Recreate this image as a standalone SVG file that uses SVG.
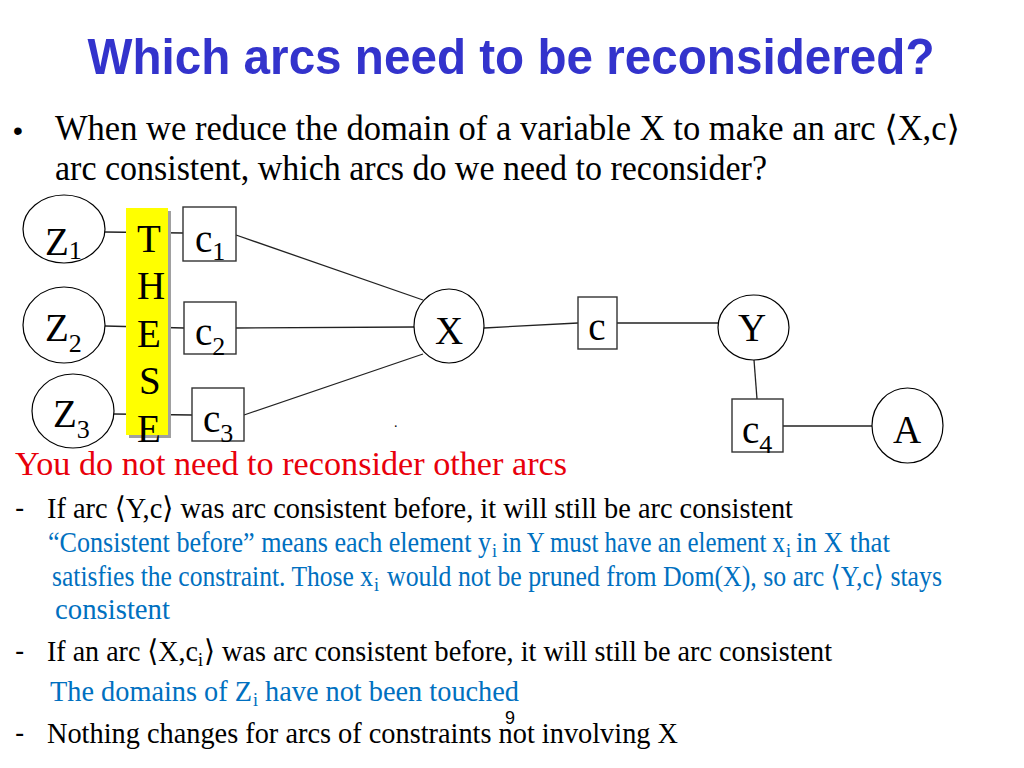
<svg xmlns="http://www.w3.org/2000/svg" width="1024" height="768" viewBox="0 0 1024 768">
<style>
  .title { font-family: "Liberation Sans", Arial, sans-serif; font-weight: bold; font-size: 50px; fill: #3333cc; }
  .t { font-family: "Liberation Serif", "Times New Roman", "DejaVu Serif", serif; fill: #000; }
  .body { font-size: 35px; }
  .sm { font-size: 30px; }
  .bl { font-size: 29px; fill: #0070c0; }
  .si { font-size: 18px; }
  .red { fill: #e8000b; font-size: 34px; }
  .lbl { font-family: "Liberation Serif", "Times New Roman", serif; font-size: 39px; fill: #000; }
  .sub { font-size: 26px; }
  .node { fill: #fff; stroke: #000; stroke-width: 1.2; }
  .box { fill: #fff; stroke: #333; stroke-width: 1.4; }
  .conn line { stroke: #222; stroke-width: 1.3; }
  .dash { font-family: "Liberation Sans", Arial, sans-serif; font-size: 28px; fill: #000; }
</style>
<rect x="0" y="0" width="1024" height="768" fill="#fff"/>

<text class="title" x="511" y="74" text-anchor="middle" textLength="847" lengthAdjust="spacingAndGlyphs">Which arcs need to be reconsidered?</text>

<text class="dash" x="13" y="140" font-size="26">•</text>
<text class="t body" x="55" y="140" textLength="905" lengthAdjust="spacingAndGlyphs">When we reduce the domain of a variable X  to make an arc ⟨X,c⟩</text>
<text class="t body" x="55" y="180" textLength="712" lengthAdjust="spacingAndGlyphs">arc consistent, which arcs do we need to reconsider?</text>

<g class="conn" id="connectors">
  <line x1="105" y1="232" x2="183" y2="233"/>
  <line x1="105" y1="326" x2="184" y2="328"/>
  <line x1="114" y1="414" x2="192" y2="415"/>
  <line x1="236" y1="235" x2="423" y2="300"/>
  <line x1="236" y1="328" x2="414" y2="327"/>
  <line x1="244" y1="415" x2="423" y2="354"/>
  <line x1="484" y1="328" x2="578" y2="323"/>
  <line x1="617" y1="323" x2="718" y2="323"/>
  <line x1="754" y1="360" x2="757" y2="399"/>
  <line x1="783" y1="426" x2="872" y2="426"/>
</g>

<g id="these">
  <rect x="129" y="211" width="42" height="227" fill="#a0a0a0"/>
  <rect x="126" y="208" width="42" height="227" fill="#ffff00"/>
  <text class="lbl" x="137" y="252">T</text>
  <text class="lbl" x="137" y="299">H</text>
  <text class="lbl" x="137" y="347">E</text>
  <text class="lbl" x="139" y="394">S</text>
  <text class="lbl" x="137" y="442">E</text>
</g>

<g id="Z1">
  <ellipse class="node" cx="64" cy="229" rx="41" ry="34"/>
  <text class="lbl" x="45" y="255">Z<tspan class="sub" dy="4">1</tspan></text>
</g>
<g id="Z2">
  <ellipse class="node" cx="64" cy="325" rx="41" ry="38"/>
  <text class="lbl" x="45" y="341">Z<tspan class="sub" dy="11">2</tspan></text>
</g>
<g id="Z3">
  <ellipse class="node" cx="73" cy="411" rx="41" ry="37"/>
  <text class="lbl" x="53" y="427">Z<tspan class="sub" dy="11">3</tspan></text>
</g>
<g id="c1">
  <rect class="box" x="183" y="207" width="53" height="54"/>
  <text class="lbl" x="195" y="252">c<tspan class="sub" dy="8">1</tspan></text>
</g>
<g id="c2">
  <rect class="box" x="184" y="302" width="52" height="52"/>
  <text class="lbl" x="195" y="345">c<tspan class="sub" dy="10">2</tspan></text>
</g>
<g id="c3">
  <rect class="box" x="192" y="388" width="52" height="53"/>
  <text class="lbl" x="203" y="432">c<tspan class="sub" dy="10">3</tspan></text>
</g>
<g id="X">
  <ellipse class="node" cx="449" cy="326" rx="35" ry="37"/>
  <text class="lbl" x="449" y="344" text-anchor="middle">X</text>
</g>
<g id="c">
  <rect class="box" x="578" y="297" width="39" height="52"/>
  <text class="lbl" x="597" y="340" text-anchor="middle">c</text>
</g>
<g id="Y">
  <ellipse class="node" cx="753.5" cy="327.5" rx="35.5" ry="32.5"/>
  <text class="lbl" x="752" y="341" text-anchor="middle">Y</text>
</g>
<g id="c4">
  <rect class="box" x="732" y="399" width="51" height="53"/>
  <text class="lbl" x="742" y="443">c<tspan class="sub" dy="10">4</tspan></text>
</g>
<g id="A">
  <ellipse class="node" cx="907.5" cy="425.5" rx="35.5" ry="37.5"/>
  <text class="lbl" x="907" y="443" text-anchor="middle">A</text>
</g>

<text class="t" x="394" y="427" font-size="14" fill="#1a2a6a">.</text>

<text class="t red" x="15" y="475" textLength="552" lengthAdjust="spacingAndGlyphs">You do not need to reconsider other arcs</text>

<text class="dash" x="15" y="517">-</text>
<text class="t sm" x="47" y="518" textLength="746" lengthAdjust="spacingAndGlyphs">If arc ⟨Y,c⟩ was arc consistent before, it will still be arc consistent</text>

<text class="t bl" x="48" y="552" textLength="443" lengthAdjust="spacingAndGlyphs">“Consistent before” means each element y</text>
<text class="t bl si" x="492" y="557">i</text>
<text class="t bl" x="502" y="552" textLength="283" lengthAdjust="spacingAndGlyphs">in Y must have an element x</text>
<text class="t bl si" x="786" y="557">i</text>
<text class="t bl" x="796" y="552" textLength="94" lengthAdjust="spacingAndGlyphs">in X that</text>

<text class="t bl" x="52" y="586" textLength="321" lengthAdjust="spacingAndGlyphs">satisfies the constraint. Those x</text>
<text class="t bl si" x="374" y="591">i</text>
<text class="t bl" x="387" y="586" textLength="555" lengthAdjust="spacingAndGlyphs">would not be pruned from Dom(X), so arc ⟨Y,c⟩ stays</text>
<text class="t bl" x="55" y="619" textLength="115" lengthAdjust="spacingAndGlyphs">consistent</text>

<text class="dash" x="15" y="660">-</text>
<text class="t sm" x="47" y="661" textLength="151" lengthAdjust="spacingAndGlyphs">If an arc ⟨X,c</text>
<text class="t si" x="198" y="666">i</text>
<text class="t sm" x="204" y="661" textLength="628" lengthAdjust="spacingAndGlyphs">⟩ was arc consistent before, it will still be arc consistent</text>

<text class="t bl" x="50" y="701" textLength="202" lengthAdjust="spacingAndGlyphs">The domains of Z</text>
<text class="t bl si" x="253" y="706">i</text>
<text class="t bl" x="265" y="701" textLength="254" lengthAdjust="spacingAndGlyphs">have not been touched</text>

<text x="505" y="724" font-family="Liberation Sans, Arial, sans-serif" font-size="18" fill="#000">9</text>

<text class="dash" x="15" y="742">-</text>
<text class="t sm" x="47" y="743" textLength="631" lengthAdjust="spacingAndGlyphs">Nothing changes for arcs of constraints not involving X</text>
</svg>
